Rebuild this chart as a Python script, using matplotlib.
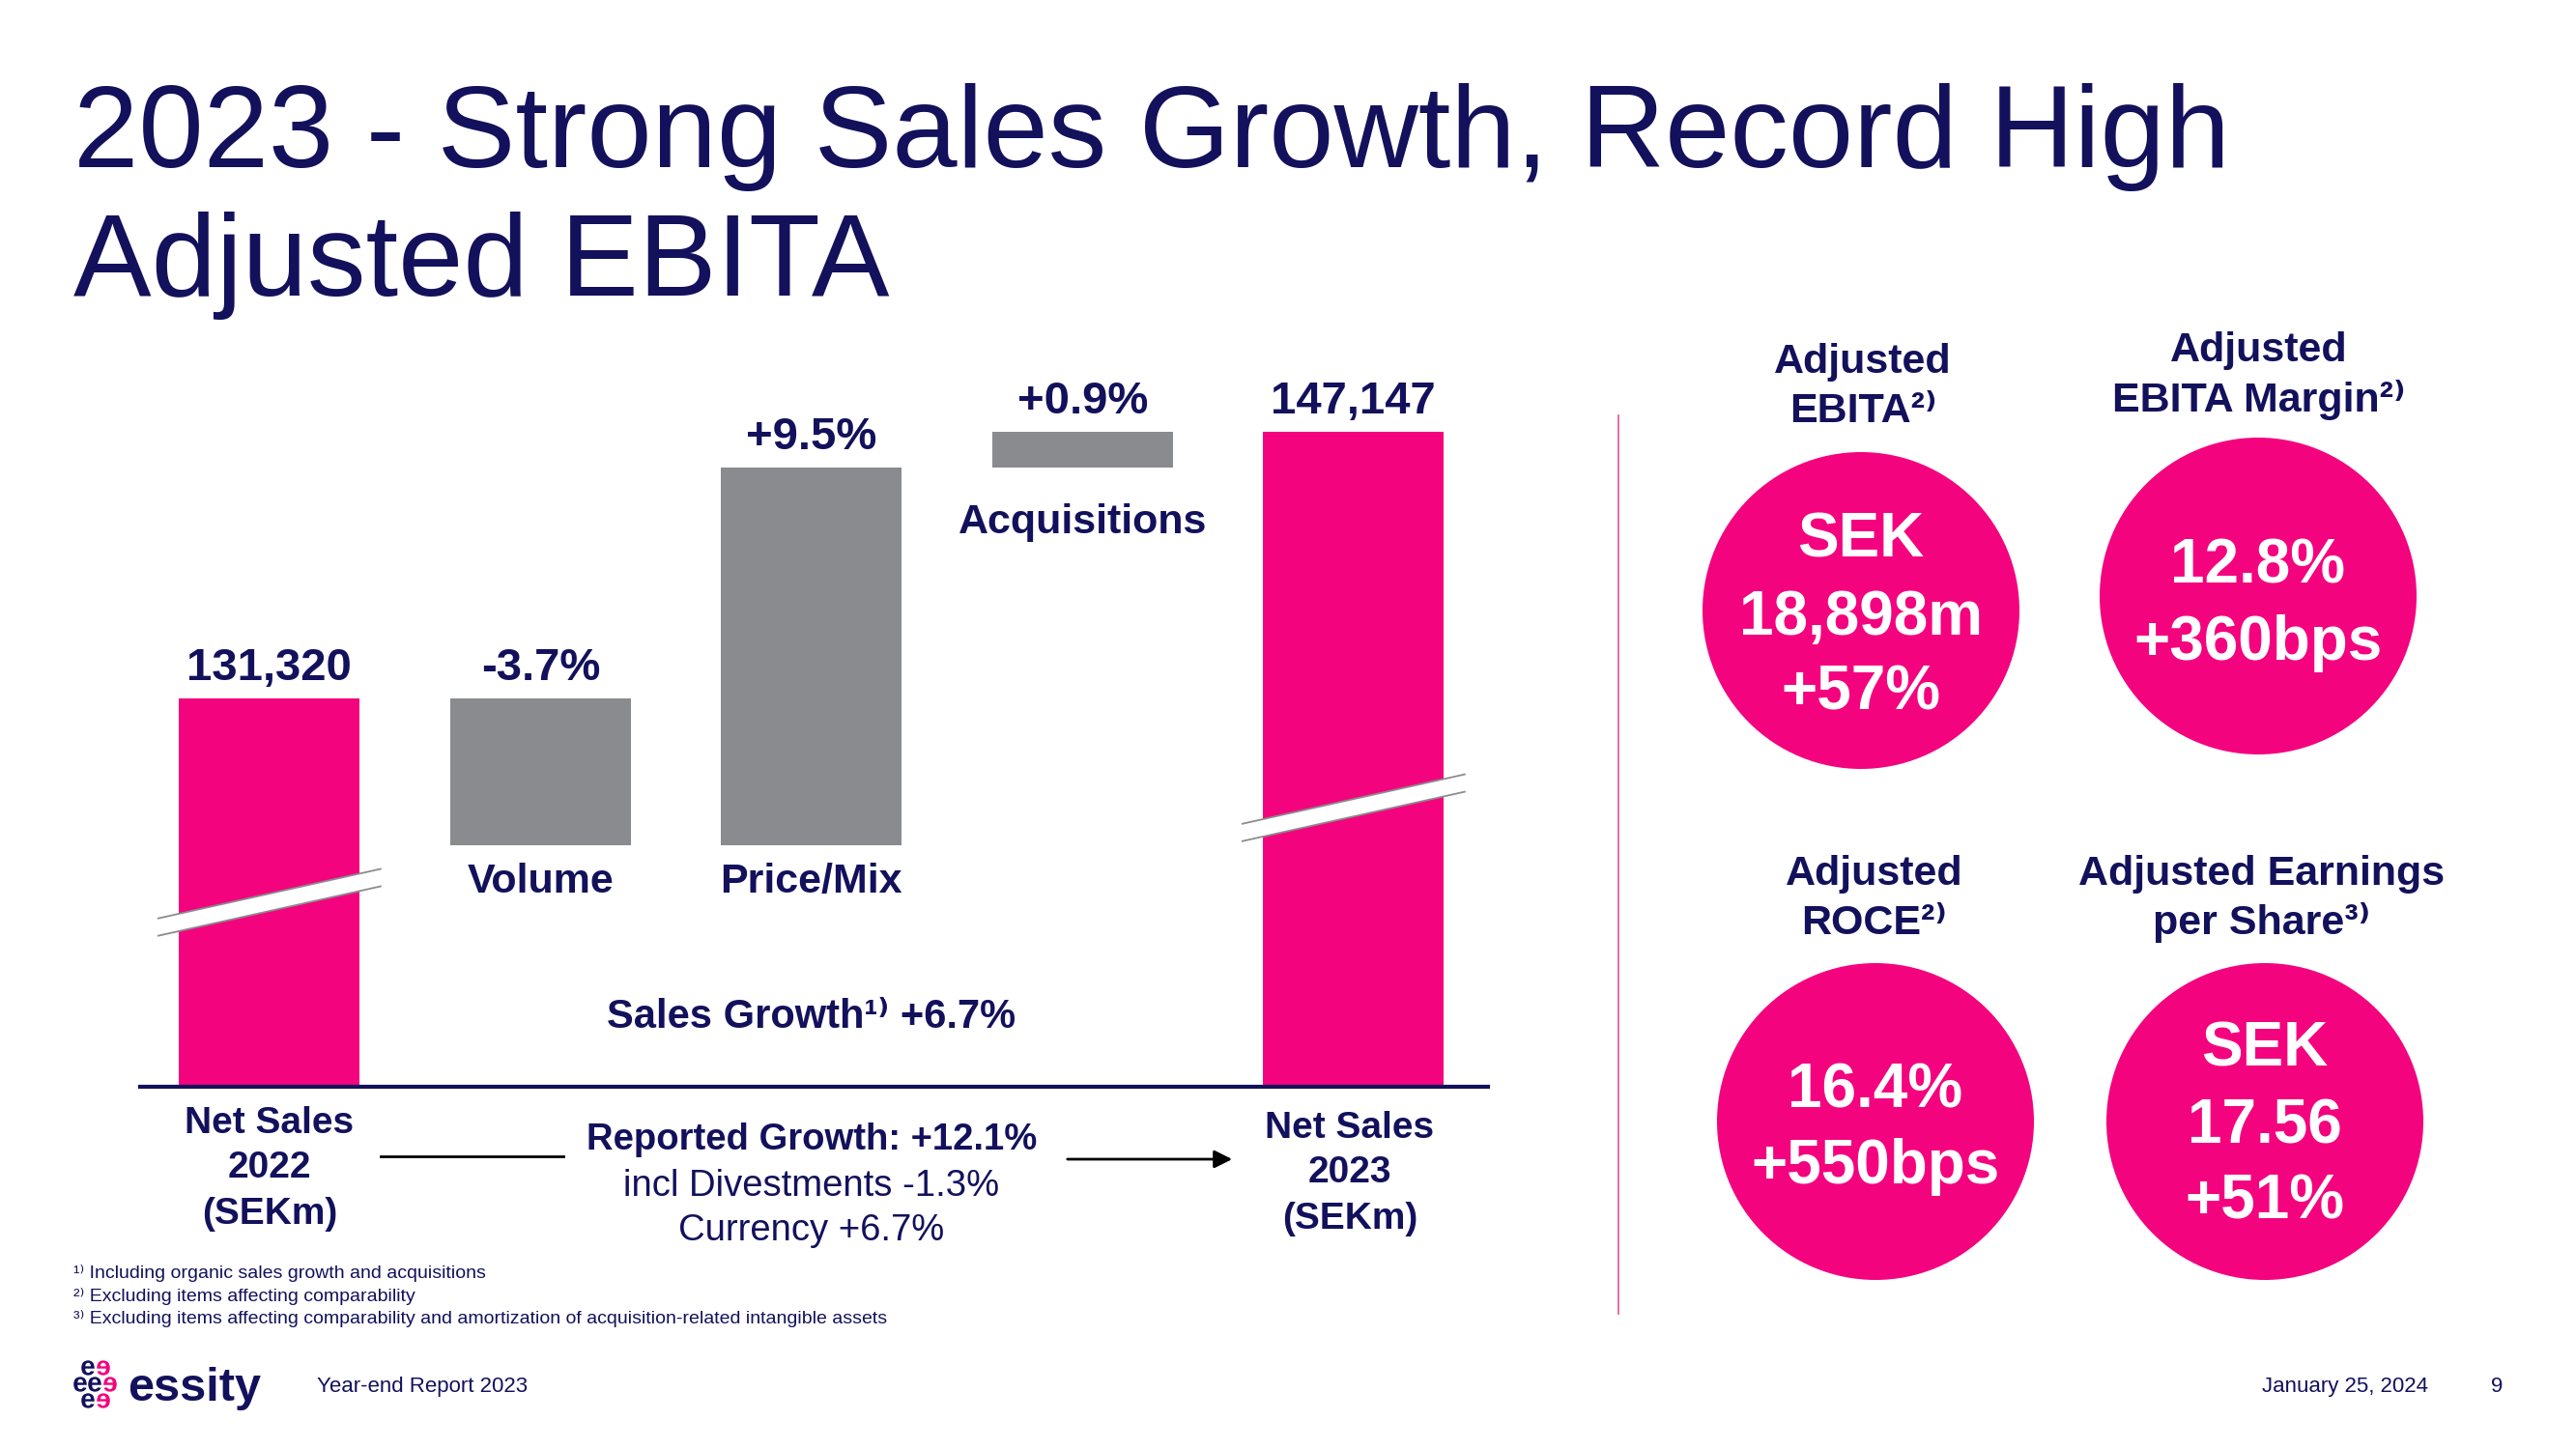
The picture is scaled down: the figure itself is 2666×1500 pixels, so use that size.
import matplotlib
matplotlib.use("Agg")
import matplotlib.pyplot as plt
from matplotlib.patches import Circle, Polygon, PathPatch
from matplotlib.textpath import TextPath
from matplotlib.font_manager import FontProperties
from matplotlib.transforms import Affine2D

plt.rcParams['font.family'] = ['Liberation Sans', 'DejaVu Sans']

NAVY = '#13115c'
PINK = '#f4037f'
GREY = '#898b8e'

# ---- data ----
bar_names = ['Net Sales\n2022\n(SEKm)', 'Volume', 'Price/Mix', 'Acquisitions', 'Net Sales\n2023\n(SEKm)']
net_sales = [131320, 147147]
organic_changes = [-3.7, 9.5, 0.9]
sales_growth = 6.7
reported_growth = 12.1
divestments = -1.3
currency = 6.7

kpi_titles = [['Adjusted', 'EBITA²⁾'],
              ['Adjusted', 'EBITA Margin²⁾'],
              ['Adjusted', 'ROCE²⁾'],
              ['Adjusted Earnings', 'per Share³⁾']]
kpi_values = [['SEK', '18,898m', '+57%'],
              ['12.8%', '+360bps'],
              ['16.4%', '+550bps'],
              ['SEK', '17.56', '+51%']]

footnotes = ['¹⁾ Including organic sales growth and acquisitions',
             '²⁾ Excluding items affecting comparability',
             '³⁾ Excluding items affecting comparability and amortization of acquisition-related intangible assets']

W, H = 2666, 1500
fig = plt.figure(figsize=(W / 100, H / 100), dpi=100)
bg = fig.add_axes([0, 0, 1, 1])
bg.set_xlim(0, W)
bg.set_ylim(H, 0)
bg.axis('off')


def txt(x, yc, s, size, weight='normal', color=NAVY, ha='center'):
    # yc = visual centre of the capitals, converted to a baseline
    bg.text(x, yc + 0.358 * size * 100 / 72, s, fontsize=size, fontweight=weight,
            color=color, ha=ha, va='baseline')


# title
bg.text(76, 173, '2023 - Strong Sales Growth, Record High', fontsize=87, color=NAVY, va='baseline')
bg.text(76, 306, 'Adjusted EBITA', fontsize=87, color=NAVY, va='baseline')

# ---- waterfall ----
ax = fig.add_axes([144.5 / W, (H - 1125.4) / H, (1540 - 144.5) / W, (1125.4 - 340) / H])
ax.patch.set_alpha(0)
y0 = 90.21
ax.set_xlim(-0.479, 4.496)
ax.set_ylim(y0, 109.3)
for s in ['top', 'left', 'right']:
    ax.spines[s].set_visible(False)
ax.spines['bottom'].set_color(NAVY)
ax.spines['bottom'].set_linewidth(3)
ax.set_xticks([])
ax.set_yticks([])

base = 100.0
levels = [base]
for c in organic_changes:
    levels.append(levels[-1] + c)
end = levels[-1]
bw = 0.667

ax.bar(0, base - y0, bottom=y0, width=bw, color=PINK)
for i, c in enumerate(organic_changes):
    lo = min(levels[i], levels[i + 1])
    ax.bar(i + 1, abs(c), bottom=lo, width=bw, color=GREY)
ax.bar(4, end - y0, bottom=y0, width=bw, color=PINK)

# value labels above bars
tops = [base] + [max(levels[i], levels[i + 1]) for i in range(3)] + [end]
vals = [f'{net_sales[0]:,}'] + [f'{c:+.1f}%' for c in organic_changes] + [f'{net_sales[1]:,}']
for i, (t, v) in enumerate(zip(tops, vals)):
    ax.annotate(v, (i, t), xytext=(0, 36), textcoords='offset pixels', ha='center',
                va='center_baseline', fontsize=34, fontweight='bold', color=NAVY)

# category labels below the change bars
bottoms = [min(levels[i], levels[i + 1]) for i in range(3)]
offs = [34, 34, 53]
for i in range(3):
    ax.annotate(bar_names[i + 1], (i + 1, bottoms[i]), xytext=(0, -offs[i]), textcoords='offset pixels',
                ha='center', va='center_baseline', fontsize=31, fontweight='bold', color=NAVY)

# axis-break slashes
slope, half, thick = 1.515, 0.41, 0.4375
for xc, yc in [(0, 94.86), (4, 97.24)]:
    lo = [(xc - half, yc - half * slope - thick / 2), (xc + half, yc + half * slope - thick / 2)]
    hi = [(xc + half, yc + half * slope + thick / 2), (xc - half, yc - half * slope + thick / 2)]
    ax.add_patch(Polygon(lo + hi, closed=True, facecolor='white', edgecolor='none', zorder=3))
    ax.plot([p[0] for p in lo], [p[1] for p in lo], color='#8c8c8c', lw=1.3, zorder=4)
    ax.plot([p[0] for p in hi], [p[1] for p in hi], color='#8c8c8c', lw=1.3, zorder=4)

# texts under the chart
txt(840, 1049, f'Sales Growth¹⁾ +{sales_growth}%', 30, 'bold')
for x, ys, lines in [(279, [1159, 1205, 1253], bar_names[0].split('\n')),
                     (1397, [1164, 1210, 1258], bar_names[4].split('\n'))]:
    for y, s in zip(ys, lines):
        txt(x, y, s, 28, 'bold')
txt(840, 1176, f'Reported Growth: +{reported_growth}%', 27.5, 'bold')
txt(840, 1224, f'incl Divestments {divestments}%', 27.5)
txt(840, 1270, f'Currency +{currency}%', 27.5)
bg.plot([394, 583], [1197, 1197], color='black', lw=2)
bg.annotate('', xy=(1278, 1200), xytext=(1102, 1200),
            arrowprops=dict(arrowstyle='-|>', color='black', lw=2, mutation_scale=28))

# divider
bg.plot([1675, 1675], [430, 1360], color='#e2559e', lw=1.2)

# KPI circles
centres = [(1926, 632), (2337, 617), (1941, 1161), (2344, 1161)]
title_pos = [(1928, [371, 422]), (2338, [359, 411]), (1940, [901, 952]), (2341, [901, 952])]
value_y = [[554, 634, 712], [581, 660], [1124, 1202], [1081, 1161, 1239]]
for (cx, cy), (tx, tys), titles, values, vys in zip(centres, title_pos, kpi_titles, kpi_values, value_y):
    bg.add_patch(Circle((cx, cy), 164, facecolor=PINK, edgecolor='none'))
    for y, s in zip(tys, titles):
        txt(tx, y, s, 31, 'bold')
    for y, s in zip(vys, values):
        txt(cx, y, s, 46, 'bold', color='white')

# footnotes
for y, s in zip([1316, 1340, 1363], footnotes):
    txt(76, y, s, 14, ha='left')

# footer / logo: little stack of e's drawn as glyph outlines
efont = FontProperties(family='Liberation Sans', weight='bold')
epath = TextPath((0, 0), 'e', size=28, prop=efont)
ext = epath.get_extents()
ecx, ecy = (ext.x0 + ext.x1) / 2, (ext.y0 + ext.y1) / 2
logo_rows = [(1416, [(91, NAVY), (107, PINK)]),
             (1433, [(83, NAVY), (98, NAVY), (114, PINK)]),
             (1450, [(91, NAVY), (107, PINK)])]
for y, chars in logo_rows:
    for x, col in chars:
        flip = -1 if col == PINK else 1   # pink e is turned upside down
        tr = Affine2D().translate(-ecx, -ecy).scale(flip, -flip).scale(1, -1 if flip < 0 else 1)
        tr = Affine2D().translate(-ecx, -ecy).scale(flip, -1) + Affine2D().translate(x, y)
        bg.add_patch(PathPatch(tr.transform_path(epath), facecolor=col, edgecolor='none'))
bg.text(132, 1450, 'essity', fontsize=35, fontweight='bold', color=NAVY, ha='left', va='baseline')
txt(328, 1433, 'Year-end Report 2023', 16, ha='left')
txt(2513, 1433, 'January 25, 2024', 16, ha='right')
txt(2584, 1433, '9', 16)

fig.savefig('out.png', dpi=100, facecolor='white')
